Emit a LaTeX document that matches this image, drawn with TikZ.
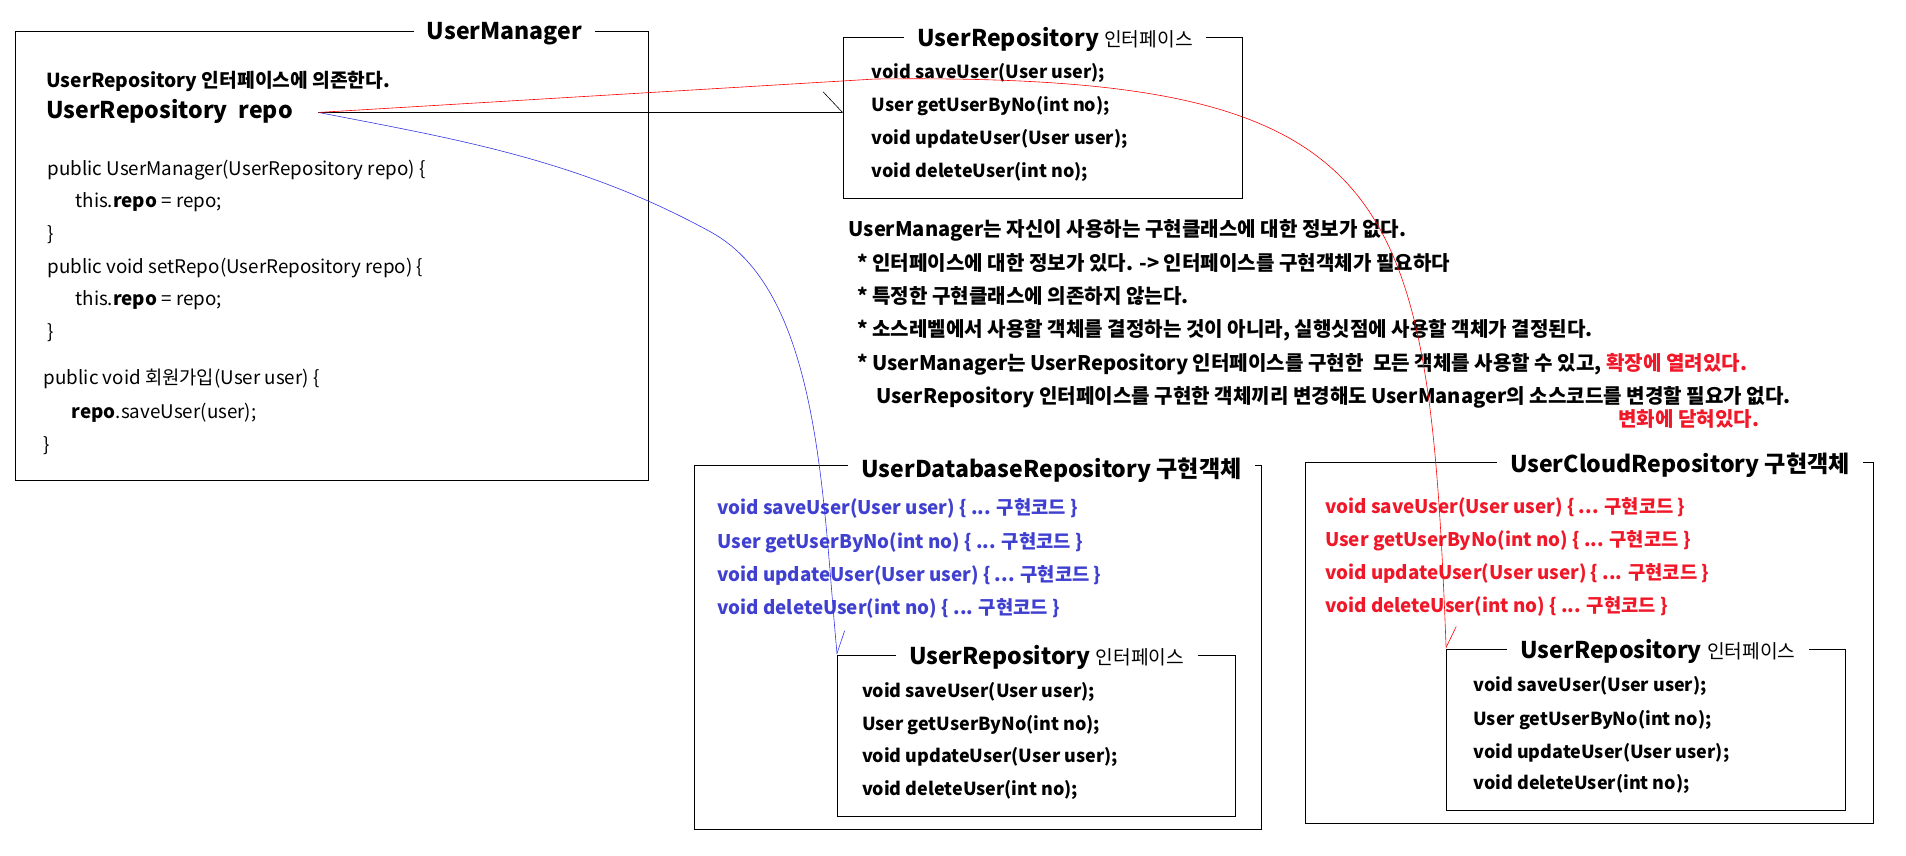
\documentclass[tikz,border=0pt]{standalone}
\usepackage{fontspec}
\setmainfont{Noto Sans CJK KR}
\usetikzlibrary{arrows.meta, fit}
\definecolor{impl-blue}{HTML}{4040D0}
\definecolor{impl-red}{HTML}{F01828}
\definecolor{link-blue}{HTML}{3434E8}
\definecolor{link-red}{HTML}{FF0000}

\begin{document}
\begin{tikzpicture}[x=0.05cm, y=-0.05cm,
    every node/.style={inner sep=0pt, text height=16pt, text depth=0pt},
    frame/.style={draw, line width=0.9pt},
    ttl/.style={font=\fontsize{27}{31}\selectfont\bfseries, fill=white, inner xsep=0.55cm},
    plain/.style={anchor=west, font=\fontsize{22}{26}\selectfont},
    strong/.style={anchor=west, font=\fontsize{22}{26}\selectfont\bfseries},
    meth/.style={anchor=west, font=\fontsize{21}{25}\selectfont\bfseries},
    note/.style={anchor=west, font=\fontsize{23.5}{27}\selectfont\bfseries},
    link/.style={line width=0.7pt}]
    \useasboundingbox (0,0) rectangle (1568,704);
    % boxes
    \coordinate (um-nw) at (13,26);       \coordinate (um-se) at (533,395);
    \coordinate (iface-nw) at (694,31);   \coordinate (iface-se) at (1022,163);
    \coordinate (db-nw) at (571,383);     \coordinate (db-se) at (1038,682);
    \coordinate (dbif-nw) at (689,539);   \coordinate (dbif-se) at (1016,672);
    \coordinate (cloud-nw) at (1074,380); \coordinate (cloud-se) at (1541,677);
    \coordinate (cloudif-nw) at (1190,534); \coordinate (cloudif-se) at (1518,667);
    \node[frame, fit=(um-nw)(um-se)] (um) {};
    \node[frame, fit=(iface-nw)(iface-se)] (iface) {};
    \node[frame, fit=(db-nw)(db-se)] (db) {};
    \node[frame, fit=(dbif-nw)(dbif-se)] (dbif) {};
    \node[frame, fit=(cloud-nw)(cloud-se)] (cloud) {};
    \node[frame, fit=(cloudif-nw)(cloudif-se)] (cloudif) {};
    % titles
    \node[ttl] (um-t) at (415,27) {UserManager};
    \node[ttl] (iface-t) at (868,33) {UserRepository {\mdseries\fontsize{22.5}{26}\selectfont 인터페이스}};
    \node[ttl] (db-t) at (865,387) {UserDatabaseRepository 구현객체};
    \node[ttl] (dbif-t) at (861,541) {UserRepository {\mdseries\fontsize{22.5}{26}\selectfont 인터페이스}};
    \node[ttl] (cloud-t) at (1382,383) {UserCloudRepository 구현객체};
    \node[ttl] (cloudif-t) at (1364,536) {UserRepository {\mdseries\fontsize{22.5}{26}\selectfont 인터페이스}};
    % UserManager
    \node[strong, font=\fontsize{22.5}{26}\selectfont\bfseries] (um-1) at (38,66) {UserRepository 인터페이스에 의존한다.};
    \node[strong, font=\fontsize{27}{31}\selectfont\bfseries] (repo) at (38,92) {UserRepository\hspace{0.45cm}repo};
    \node[plain] (um-2) at (39,138.5) {public UserManager(UserRepository repo) \{};
    \node[plain] (um-3) at (62,165) {this.\textbf{repo} = repo;};
    \node[plain] (um-4) at (39,192) {\}};
    \node[plain] (um-5) at (39,219) {public void setRepo(UserRepository repo) \{};
    \node[plain] (um-6) at (62,246) {this.\textbf{repo} = repo;};
    \node[plain] (um-7) at (39,273) {\}};
    \node[plain] (um-8) at (36,311) {public void 회원가입(User user) \{};
    \node[plain] (um-9) at (59,338.5) {\textbf{repo}.saveUser(user);};
    \node[plain] (um-10) at (36,365.5) {\}};
    \coordinate (repoend) at (262,92.5);
    % interface
    \node[meth] (iface-1) at (717,59) {void saveUser(User user);};
    \node[meth] (iface-2) at (717,86) {User getUserByNo(int no);};
    \node[meth] (iface-3) at (717,113) {void updateUser(User user);};
    \node[meth] (iface-4) at (717,140) {void deleteUser(int no);};
    % notes
    \node[note] (note-1) at (698,189) {UserManager는 자신이 사용하는 구현클래스에 대한 정보가 없다.};
    \node[note] (note-2) at (705,216.5) {* 인터페이스에 대한 정보가 있다. -> 인터페이스를 구현객체가 필요하다};
    \node[note] (note-3) at (705,244) {* 특정한 구현클래스에 의존하지 않는다.};
    \node[note] (note-4) at (705,271.5) {* 소스레벨에서 사용할 객체를 결정하는 것이 아니라, 실행싯점에 사용할 객체가 결정된다.};
    \node[note] (note-5) at (705,299) {* UserManager는 UserRepository 인터페이스를 구현한~ 모든 객체를 사용할 수 있고, \textcolor{impl-red}{확장에 열려있다.}};
    \node[note] (note-6) at (721,326.5) {UserRepository 인터페이스를 구현한 객체끼리 변경해도 UserManager의 소스코드를 변경할 필요가 없다.};
    \node[note, text=impl-red] (note-7) at (1331,345) {변화에 닫혀있다.};
    % database
    \node[strong, text=impl-blue] (db-1) at (590,418) {void saveUser(User user) \{ ... 구현코드 \}};
    \node[strong, text=impl-blue] (db-2) at (590,445.5) {User getUserByNo(int no) \{ ... 구현코드 \}};
    \node[strong, text=impl-blue] (db-3) at (590,472.5) {void updateUser(User user) \{ ... 구현코드 \}};
    \node[strong, text=impl-blue] (db-4) at (590,499.5) {void deleteUser(int no) \{ ... 구현코드 \}};
    \node[meth] (dbif-1) at (709,568) {void saveUser(User user);};
    \node[meth] (dbif-2) at (709,595) {User getUserByNo(int no);};
    \node[meth] (dbif-3) at (709,622) {void updateUser(User user);};
    \node[meth] (dbif-4) at (709,649) {void deleteUser(int no);};
    % cloud
    \node[strong, text=impl-red] (cloud-1) at (1090,417) {void saveUser(User user) \{ ... 구현코드 \}};
    \node[strong, text=impl-red] (cloud-2) at (1090,444) {User getUserByNo(int no) \{ ... 구현코드 \}};
    \node[strong, text=impl-red] (cloud-3) at (1090,471) {void updateUser(User user) \{ ... 구현코드 \}};
    \node[strong, text=impl-red] (cloud-4) at (1090,498.5) {void deleteUser(int no) \{ ... 구현코드 \}};
    \node[meth] (cloudif-1) at (1212,563.5) {void saveUser(User user);};
    \node[meth] (cloudif-2) at (1212,591) {User getUserByNo(int no);};
    \node[meth] (cloudif-3) at (1212,618) {void updateUser(User user);};
    \node[meth] (cloudif-4) at (1212,644) {void deleteUser(int no);};
    % links
    \coordinate (bluebend) at (585,191);
    \coordinate (redtop) at (720,65);
    \draw[link, -{Straight Barb[harpoon, length=0.8cm, width=1.7cm]}] (repoend) -- (repoend -| iface.west);
    \draw[link, link-blue, -{Straight Barb[harpoon, length=0.9cm, width=0.8cm]}]
      (repoend) .. controls (372,114) and (475,130.5) .. (bluebend)
      .. controls (675,240.5) and (676.5,410) .. (dbif.north west);
    \draw[link, link-red, -{Straight Barb[harpoon, length=0.85cm, width=0.9cm]}]
      (repoend) -- (redtop) .. controls (1150,60) and (1175,150) .. (cloudif.north west);
\end{tikzpicture}
\end{document}
